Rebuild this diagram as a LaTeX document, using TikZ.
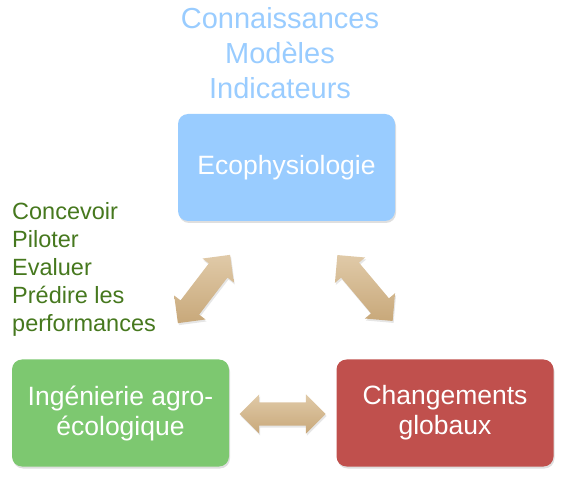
\documentclass[tikz,border=0pt]{standalone}
\usepackage{fontspec}
\setmainfont{Liberation Sans}
\usepackage{tikz}
\usetikzlibrary{positioning}
\usetikzlibrary{shapes.arrows}
\usetikzlibrary{shadows}

\definecolor{ecoblue}{RGB}{153,204,255}
\definecolor{ingreen}{RGB}{125,200,112}
\definecolor{chgred}{RGB}{192,80,77}
\definecolor{actgreen}{RGB}{70,120,30}
\definecolor{tanlight}{RGB}{224,202,168}
\definecolor{tandark}{RGB}{200,168,122}

\tikzset{
    domaine/.style={rectangle, rounded corners=10pt, minimum width=217pt, minimum height=107pt,
        align=center, text=white, font=\fontsize{26.5}{30}\selectfont,
        drop shadow={opacity=0.25, shadow xshift=1pt, shadow yshift=-2pt}},
    lien/.style={double arrow, minimum height=86pt, inner xsep=0pt, inner ysep=11.5pt,
        double arrow head extend=8pt, double arrow tip angle=90,
        top color=tanlight, bottom color=tandark, draw=none,
        drop shadow={opacity=0.2, shadow xshift=1pt, shadow yshift=-2pt}}
}

\begin{document}
\begin{tikzpicture}[x=1pt, y=1pt]
    \useasboundingbox (0,0) rectangle (563,480);

    % les trois domaines
    \node[domaine, fill=ecoblue] (eco) at (286.5,312.5) {Ecophysiologie};
    \node[domaine, fill=ingreen] (ing) at (120.5,67) {Ingénierie agro-\\écologique};
    \node[domaine, fill=chgred] (chg) at (445,67) {Changements\\globaux};

    % fleches doubles entre les domaines
    \node[lien, rotate=52.6] (eco-ing) at (204,191) {};
    \node[lien, rotate=-50] (eco-chg) at (365,192) {};
    \node[lien] (ing-chg) at (282.5,66) {};

    % textes
    \node[align=center, text=ecoblue, font=\fontsize{29}{35}\selectfont] (savoirs) at (280,427)
        {Connaissances\\Modèles\\Indicateurs};
    \node[align=left, anchor=west, text=actgreen, inner sep=0pt, font=\fontsize{23.5}{28}\selectfont] (actions) at (12,211)
        {Concevoir\\Piloter\\Evaluer\\Prédire les\\performances};
\end{tikzpicture}
\end{document}
